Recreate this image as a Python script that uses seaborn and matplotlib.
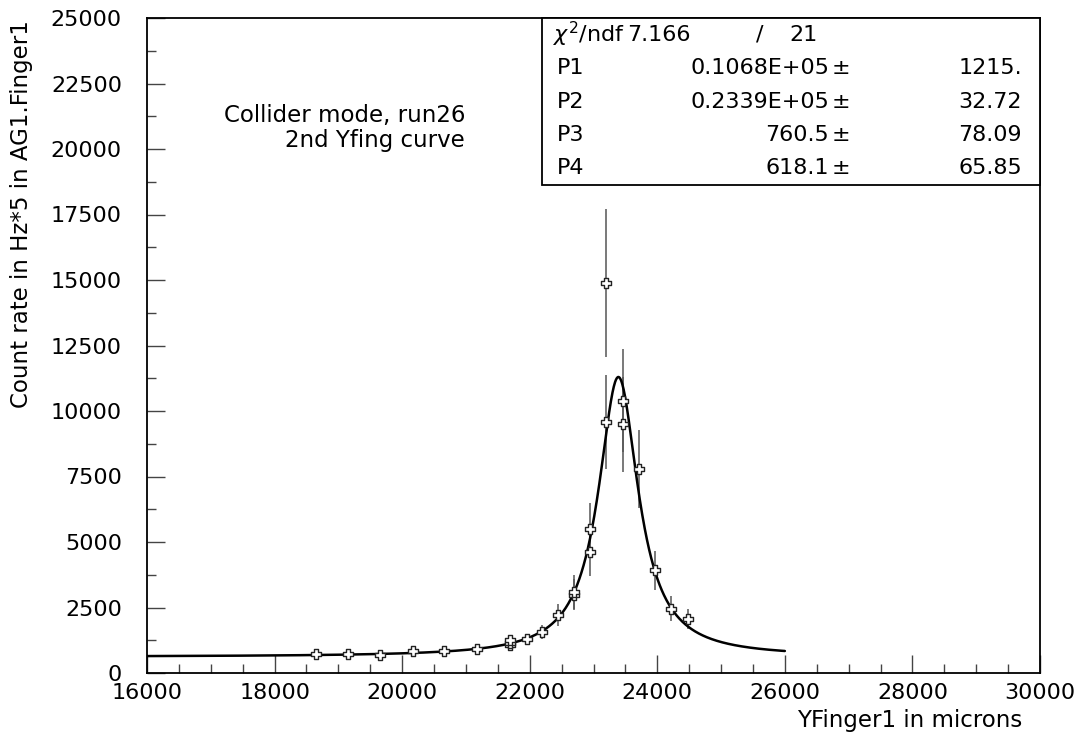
import numpy as np
import pandas as pd
import matplotlib
matplotlib.use("Agg")
import matplotlib.pyplot as plt
from matplotlib.patches import Rectangle
from matplotlib.ticker import MultipleLocator
import seaborn as sns

# ---- data ----
x_pos = [18650, 19150, 19650, 20170, 20660, 21170, 21690, 21690, 21690, 21950,
         22200, 22450, 22690, 22690, 22950, 22950, 23200, 23200, 23460, 23460,
         23720, 23970, 24220, 24480]
y_rate = [740, 740, 700, 840, 840, 900, 1050, 1150, 1250, 1290,
          1560, 2200, 2990, 3100, 4620, 5480, 9570, 14880, 9490, 10390,
          7790, 3920, 2460, 2060]
y_err = [100, 100, 100, 110, 110, 120, 150, 160, 180, 200,
         270, 420, 600, 650, 900, 1020, 1800, 2830, 1800, 1960,
         1500, 750, 470, 380]

# fit parameters shown in the stats box (Lorentzian + constant)
P1, P2, P3, P4 = 0.1068e5, 0.2339e5, 760.5, 618.1
fit_range = (16000, 26000)

stats_rows = [
    ("P1", "0.1068E+05", "1215."),
    ("P2", "0.2339E+05", "32.72"),
    ("P3", "760.5", "78.09"),
    ("P4", "618.1", "65.85"),
]
chi2_val, ndf_val = "7.166", "21"

x_lim = (16000, 30000)
y_lim = (0, 25000)

# ---- styling ----
sns.set_style("white")
plt.rcParams["font.family"] = ["DejaVu Sans"]
plt.rcParams["mathtext.fontset"] = "dejavusans"
plt.rcParams["text.color"] = "black"
plt.rcParams["axes.labelcolor"] = "black"
plt.rcParams["xtick.color"] = "black"
plt.rcParams["ytick.color"] = "black"

fig = plt.figure(figsize=(10.86, 7.40), dpi=100)
ax = fig.add_axes([147 / 1086, 67 / 740, 893 / 1086, 655 / 740])

df = pd.DataFrame({"x": x_pos, "y": y_rate, "err": y_err})

# error bars
ax.errorbar(df["x"], df["y"], yerr=df["err"], fmt="none", ecolor="#555555",
            elinewidth=1.1, capsize=0, zorder=2)

# fit curve
xf = np.linspace(fit_range[0], fit_range[1], 1500)
yf = P1 / (1.0 + (2.0 * (xf - P2) / P3) ** 2) + P4
sns.lineplot(x=xf, y=yf, ax=ax, color="black", linewidth=1.8,
             estimator=None, sort=False, zorder=3)

# points (open crosses)
sns.scatterplot(data=df, x="x", y="y", ax=ax, marker="P", s=60,
                color="white", edgecolor="#222222", linewidth=1.0, zorder=4)

ax.set_xlim(*x_lim)
ax.set_ylim(*y_lim)

ax.xaxis.set_major_locator(MultipleLocator(2000))
ax.xaxis.set_minor_locator(MultipleLocator(500))
ax.yaxis.set_major_locator(MultipleLocator(2500))
ax.yaxis.set_minor_locator(MultipleLocator(1250))

ax.tick_params(axis="both", which="both", bottom=True, left=True,
               top=False, right=False)
ax.tick_params(axis="both", which="major", direction="in", length=13,
               width=1.0, color="#444444", labelsize=16)
ax.tick_params(axis="both", which="minor", direction="in", length=6.5,
               width=1.0, color="#444444")
ax.tick_params(axis="x", which="major", pad=7)
ax.tick_params(axis="y", which="major", pad=18)

for sp in ax.spines.values():
    sp.set_visible(True)
    sp.set_linewidth(1.3)
    sp.set_color("black")

ax.set_xlabel("YFinger1 in microns", fontsize=16.5, loc="right")
ax.xaxis.set_label_coords((1022 - 147) / 893, -(720 - 673) / 655)
ax.xaxis.label.set_va("center")
ax.xaxis.label.set_ha("right")

ax.set_ylabel("Count rate in Hz*5 in AG1.Finger1", fontsize=16.5, loc="top")
ax.yaxis.set_label_coords((22 - 147) / 893, (673 - 20) / 655)
ax.yaxis.label.set_va("center")
ax.yaxis.label.set_ha("right")

# annotation text
ax.text((465 - 147) / 893, (673 - 115) / 655, "Collider mode, run26",
        transform=ax.transAxes, ha="right", va="center", fontsize=16.5)
ax.text((465 - 147) / 893, (673 - 140) / 655, "2nd Yfing curve",
        transform=ax.transAxes, ha="right", va="center", fontsize=16.5)

# stats box
bx0 = (542 - 147) / 893
by0 = (673 - 185) / 655
ax.add_patch(Rectangle((bx0, by0), 1 - bx0, 1 - by0, transform=ax.transAxes,
                       facecolor="white", edgecolor="black", linewidth=1.3,
                       zorder=5, clip_on=False))

def fx(px):
    return (px - 147) / 893

def fy(py):
    return (673 - py) / 655

row_y = [34.7, 68.1, 101.5, 134.9, 168.3]
fs = 16
ax.text(fx(553), fy(row_y[0]), r"$\chi^2$/ndf", transform=ax.transAxes,
        ha="left", va="center", fontsize=fs, zorder=6)
ax.text(fx(627), fy(row_y[0]), chi2_val, transform=ax.transAxes,
        ha="left", va="center", fontsize=fs, zorder=6)
ax.text(fx(760), fy(row_y[0]), "/", transform=ax.transAxes,
        ha="center", va="center", fontsize=fs, zorder=6)
ax.text(fx(818), fy(row_y[0]), ndf_val, transform=ax.transAxes,
        ha="right", va="center", fontsize=fs, zorder=6)
for i, (name, val, err) in enumerate(stats_rows):
    yy = fy(row_y[i + 1])
    ax.text(fx(557), yy, name, transform=ax.transAxes, ha="left",
            va="center", fontsize=fs, zorder=6)
    ax.text(fx(829), yy, val, transform=ax.transAxes, ha="right",
            va="center", fontsize=fs, zorder=6)
    ax.text(fx(832), yy, "\u00b1", transform=ax.transAxes, ha="left",
            va="center", fontsize=fs, zorder=6)
    ax.text(fx(1022), yy, err, transform=ax.transAxes, ha="right",
            va="center", fontsize=fs, zorder=6)

fig.savefig("out.png", dpi=100)
